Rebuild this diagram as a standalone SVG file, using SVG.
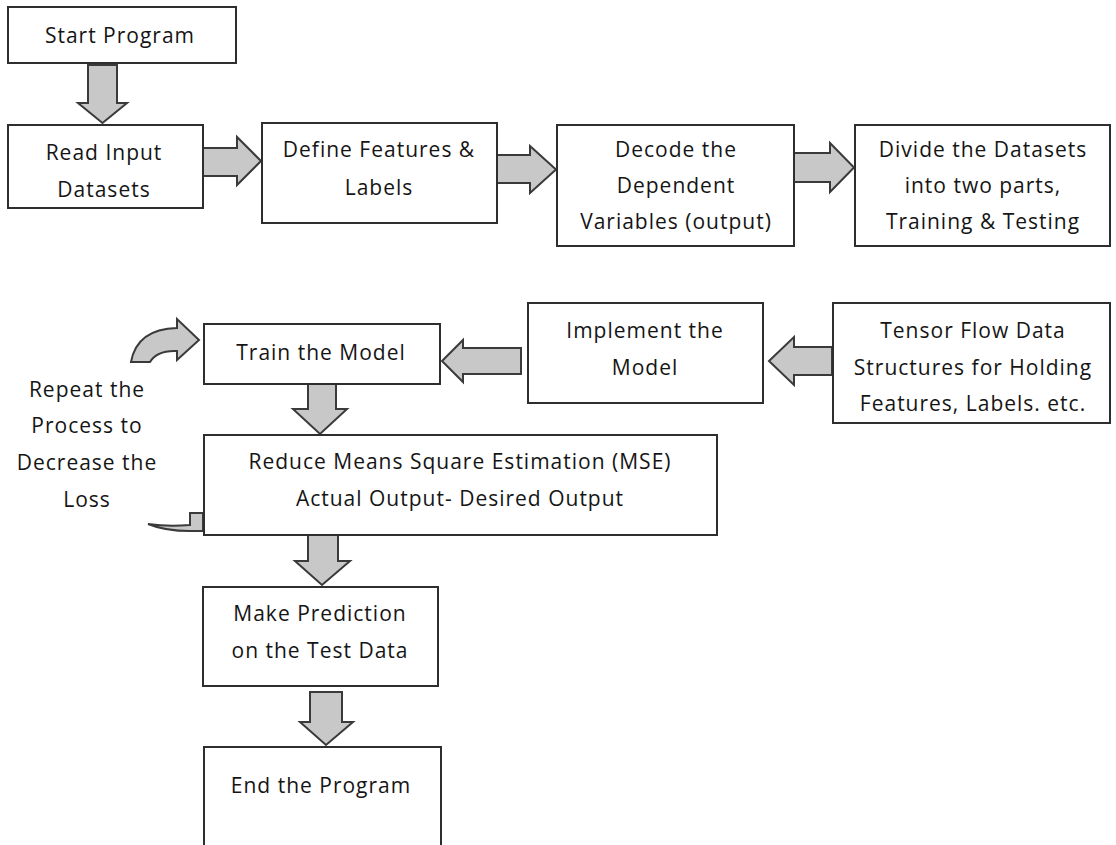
<svg xmlns="http://www.w3.org/2000/svg" width="1116" height="845" viewBox="0 0 1116 845">
<style>
.box{fill:#ffffff;stroke:#2e2e2e;stroke-width:2}
.arr{fill:#c8c8c8;stroke:#3a3a3a;stroke-width:2;stroke-linejoin:miter}
text{font-family:"Open Sans","Liberation Sans",sans-serif;font-size:21px;letter-spacing:1px;fill:#151515;text-anchor:middle}
</style>
<rect width="1116" height="845" fill="#ffffff"/>
<g id="connectors">
<polygon class="arr" points="88,65 117,65 117,103 127,103 102.5,123 78,103 88,103"/>
<polygon class="arr" points="203,148 237,148 237,137 261,161 237,185 237,176 203,176"/>
<polygon class="arr" points="497,155 530,155 530,146 556,169.5 530,193 530,183 497,183"/>
<polygon class="arr" points="794,153 830,153 830,143 854,167.5 830,192 830,182 794,182"/>
<polygon class="arr" points="832,347 794,347 794,337 769,361 794,385 794,375 832,375"/>
<polygon class="arr" points="521,348 463,348 463,340 442,361 463,382 463,374 521,374"/>
<polygon class="arr" points="308,384 336,384 336,409 347,409 320,434 293,409 308,409"/>
<polygon class="arr" points="308,535 338,535 338,561 350,561 322,585 295,561 308,561"/>
<polygon class="arr" points="310,692 342,692 342,722 353,722 326,745 300,722 310,722"/>
<path class="arr" d="M131,362 Q137,329 177,328 L177,319 L199,340 L177,360 L177,351 Q157,350 150,362 Z"/>
<path class="arr" stroke-width="1.5" d="M148,524 Q165,531 190,531 L203,531 L203,513 L190,513 L190,525 Q168,527 148,524 Z"/>
</g>
<g id="start"><rect class="box" x="8" y="7" width="228" height="56"/><text x="120" y="43">Start Program</text></g>
<g id="read"><rect class="box" x="8" y="125" width="195" height="83"/><text x="104" y="160">Read Input</text><text x="104" y="197">Datasets</text></g>
<g id="define"><rect class="box" x="262" y="123" width="235" height="100"/><text x="379" y="157">Define Features &amp;</text><text x="379" y="195">Labels</text></g>
<g id="decode"><rect class="box" x="557" y="125" width="237" height="121"/><text x="676" y="157">Decode the</text><text x="676" y="193">Dependent</text><text x="676" y="229">Variables (output)</text></g>
<g id="divide"><rect class="box" x="855" y="125" width="255" height="121"/><text x="983" y="157">Divide the Datasets</text><text x="983" y="193">into two parts,</text><text x="983" y="229">Training &amp; Testing</text></g>
<g id="tensor"><rect class="box" x="833" y="303" width="277" height="120"/><text x="973" y="338">Tensor Flow Data</text><text x="973" y="375">Structures for Holding</text><text x="973" y="411">Features, Labels. etc.</text></g>
<g id="implement"><rect class="box" x="528" y="303" width="235" height="100"/><text x="645" y="338">Implement the</text><text x="645" y="375">Model</text></g>
<g id="train"><rect class="box" x="204" y="324" width="236" height="60"/><text x="321" y="360">Train the Model</text></g>
<g id="reduce"><rect class="box" x="204" y="435" width="513" height="100"/><text x="460" y="469">Reduce Means Square Estimation (MSE)</text><text x="460" y="506">Actual Output- Desired Output</text></g>
<g id="predict"><rect class="box" x="203" y="587" width="235" height="99"/><text x="320" y="621">Make Prediction</text><text x="320" y="658">on the Test Data</text></g>
<g id="end"><rect class="box" x="204" y="747" width="237" height="110"/><text x="321" y="793">End the Program</text></g>
<g id="repeat-label"><text x="87" y="397">Repeat the</text><text x="87" y="433">Process to</text><text x="87" y="470">Decrease the</text><text x="87" y="507">Loss</text></g>
</svg>
